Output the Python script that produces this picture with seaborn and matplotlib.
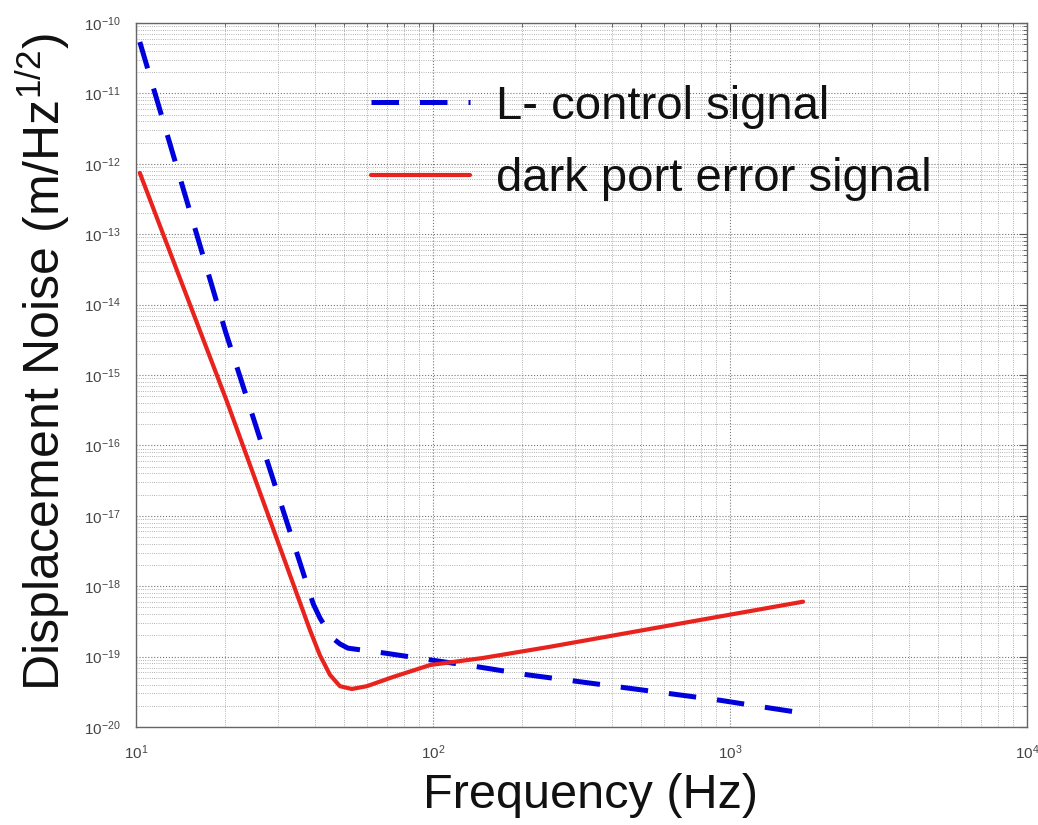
import numpy as np
import pandas as pd
import matplotlib
matplotlib.use("Agg")
import matplotlib.pyplot as plt
import seaborn as sns
from matplotlib.ticker import LogLocator, NullFormatter

# ---- data (frequency in Hz, log10 of displacement noise in m/Hz^1/2)
l_freq = [10.3, 20.0, 39.5, 41.6, 44.0, 46.0, 48.6, 51.7, 68.8,
          99.2, 143.9, 209.0, 925.0, 1312.0, 1746.0]
l_logval = [-10.27, -14.38, -18.25, -18.45, -18.62, -18.74, -18.82, -18.88, -18.95,
            -19.05, -19.15, -19.26, -19.62, -19.72, -19.80]

d_freq = [10.3, 20.25, 38.5, 41.6, 45.0, 48.6, 53.3, 59.9, 73.3, 97.7,
          147.0, 248.0, 793.0, 1762.0]
d_logval = [-12.13, -15.38, -18.62, -18.98, -19.26, -19.42, -19.46, -19.42, -19.29,
            -19.12, -19.02, -18.86, -18.48, -18.22]

labels = ["L- control signal", "dark port error signal"]

l_val = [10 ** v for v in l_logval]
d_val = [10 ** v for v in d_logval]

sns.set_theme(style="white")
plt.rcParams["font.family"] = ["Liberation Sans", "DejaVu Sans"]
plt.rcParams["mathtext.fontset"] = "custom"
plt.rcParams["mathtext.rm"] = "Liberation Sans"
plt.rcParams["mathtext.it"] = "Liberation Sans:italic"
plt.rcParams["mathtext.bf"] = "Liberation Sans:bold"

fig = plt.figure(figsize=(10.38, 8.25), dpi=100)
ax = fig.add_axes([136 / 1038, 1 - 727 / 825, (1027 - 136) / 1038, (727 - 23) / 825])

df_l = pd.DataFrame({"f": l_freq, "v": l_val})
df_d = pd.DataFrame({"f": d_freq, "v": d_val})

sns.lineplot(data=df_l, x="f", y="v", ax=ax, color="#0000DD", linewidth=3.6,
             label=labels[0], linestyle=(0, (5.5, 4.2)))
sns.lineplot(data=df_d, x="f", y="v", ax=ax, color="#E8231E", linewidth=3.0,
             label=labels[1])

ax.set_xscale("log")
ax.set_yscale("log")
ax.set_xlim(10, 1e4)
ax.set_ylim(1e-20, 1e-10)

ax.xaxis.set_major_locator(LogLocator(base=10, numticks=10))
ax.yaxis.set_major_locator(LogLocator(base=10, numticks=15))
ax.xaxis.set_minor_locator(LogLocator(base=10, subs=np.arange(2, 10), numticks=20))
ax.yaxis.set_minor_locator(LogLocator(base=10, subs=np.arange(2, 10), numticks=20))
ax.xaxis.set_minor_formatter(NullFormatter())
ax.yaxis.set_minor_formatter(NullFormatter())

ax.grid(True, which="major", linestyle=":", color="#777777", linewidth=0.8)
ax.grid(True, which="minor", linestyle=":", color="#999999", linewidth=0.6)

ax.tick_params(which="both", direction="in", top=True, right=True, color="#555555")
ax.tick_params(which="major", length=6, width=0.8)
ax.tick_params(which="minor", length=3, width=0.6)
ax.tick_params(axis="y", which="major", labelsize=11, pad=11, labelcolor="#444444")
ax.tick_params(axis="x", which="major", labelsize=11, pad=12, labelcolor="#444444")

for s in ax.spines.values():
    s.set_color("#666666")
    s.set_linewidth(1.0)

ax.set_xlabel("Frequency (Hz)", fontsize=35, color="#111111")
ax.set_ylabel(r"Displacement Noise (m/Hz$^{1/2}$)", fontsize=36, color="#111111")
ax.xaxis.set_label_coords(0.51, -0.066)
ax.yaxis.set_label_coords(-0.071, 0.518)

leg = ax.legend(loc="upper left", bbox_to_anchor=((352 - 136) / 891, (727 - 66) / 704),
                frameon=False, fontsize=34, handlelength=2.1, handletextpad=0.55,
                labelspacing=0.6, borderaxespad=0)
for t in leg.get_texts():
    t.set_color("#111111")

fig.savefig("out.png", dpi=100)
